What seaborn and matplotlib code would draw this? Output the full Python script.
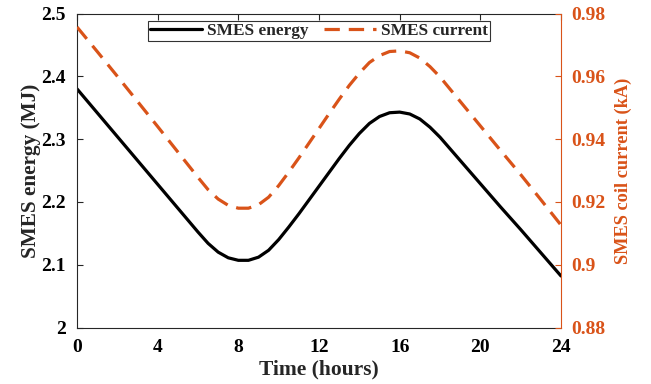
import matplotlib
matplotlib.use("Agg")
import matplotlib.pyplot as plt
from matplotlib.ticker import FuncFormatter
import seaborn as sns
import pandas as pd

# Time of day (hours)
hours = [0, 1, 2, 3, 4, 5, 6, 6.5, 7, 7.5, 8, 8.5, 9, 9.5, 10, 10.5, 11, 11.5,
         12, 12.5, 13, 13.5, 14, 14.5, 15, 15.5, 16, 16.5, 17, 17.5, 18, 19,
         20, 21, 22, 23, 24]

# Stored energy in the SMES coil (MJ)
energy_mj = [2.380, 2.342, 2.304, 2.266, 2.228, 2.190, 2.152, 2.134, 2.120,
             2.111, 2.107, 2.107, 2.112, 2.123, 2.140, 2.160, 2.181, 2.203,
             2.225, 2.247, 2.269, 2.290, 2.309, 2.325, 2.336, 2.342, 2.343,
             2.340, 2.332, 2.319, 2.303, 2.266, 2.229, 2.192, 2.156, 2.119,
             2.082]

# Coil current (kA)
current_ka = [0.9757, 0.9679, 0.9600, 0.9520, 0.9440, 0.9359, 0.9278, 0.9239,
              0.9209, 0.9189, 0.9180, 0.9180, 0.9191, 0.9215, 0.9252, 0.9295,
              0.9340, 0.9387, 0.9434, 0.9481, 0.9527, 0.9571, 0.9610, 0.9644,
              0.9666, 0.9679, 0.9681, 0.9675, 0.9658, 0.9631, 0.9598, 0.9520,
              0.9442, 0.9364, 0.9287, 0.9207, 0.9126]

x_ticks = [0, 4, 8, 12, 16, 20, 24]
energy_ticks = [2.0, 2.1, 2.2, 2.3, 2.4, 2.5]
current_ticks = [0.88, 0.90, 0.92, 0.94, 0.96, 0.98]

df = pd.DataFrame({"t": hours, "E": energy_mj, "I": current_ka})

sns.set_style("white")
plt.rcParams["font.family"] = ["Liberation Serif", "DejaVu Serif"]
plt.rcParams["font.weight"] = "bold"

ORANGE = "#D95319"
AXCOL = "#262626"

fig = plt.figure(figsize=(6.51, 3.84), dpi=100)
ax = fig.add_axes([0.1183, 0.1471, 0.7435, 0.8177])
ax2 = ax.twinx()

sns.lineplot(data=df, x="t", y="E", ax=ax, color="black", linewidth=2.3,
             label="SMES energy", legend=False)
sns.lineplot(data=df, x="t", y="I", ax=ax2, color=ORANGE, linewidth=2.3,
             label="SMES current", legend=False)
ax2.lines[0].set_dashes((4.8, 2.8))

ax.set_xlim(0, 24)
ax.set_ylim(2.0, 2.5)
ax2.set_ylim(0.88, 0.98)
ax.set_xticks(x_ticks)
ax.set_yticks(energy_ticks)
ax2.set_yticks(current_ticks)

fmt = FuncFormatter(lambda v, p: f"{v:g}")
ax.yaxis.set_major_formatter(fmt)
ax2.yaxis.set_major_formatter(fmt)

ax.tick_params(axis="x", direction="in", length=4, width=0.8, colors=AXCOL,
               top=True, labelcolor="black", labelsize=14, pad=8)
ax.tick_params(axis="y", direction="in", length=4, width=0.8, colors=AXCOL,
               labelcolor="black", labelsize=14, pad=8)
ax2.tick_params(axis="y", direction="in", length=4, width=0.8, colors=ORANGE,
                labelcolor=ORANGE, labelsize=14, pad=7)
for lab in ax.get_xticklabels() + ax.get_yticklabels() + ax2.get_yticklabels():
    lab.set_fontweight("bold")

for name in ("left", "top", "bottom"):
    ax.spines[name].set_color(AXCOL)
    ax.spines[name].set_linewidth(0.8)
ax2.spines["right"].set_color(ORANGE)
ax2.spines["right"].set_linewidth(0.8)
ax.spines["right"].set_visible(False)
for name in ("left", "top", "bottom"):
    ax2.spines[name].set_visible(False)

ax.set_xlabel("Time (hours)", fontsize=15.5, fontweight="bold", labelpad=3)
ax.set_ylabel("SMES energy (MJ)", fontsize=15.3, fontweight="bold", labelpad=0)
ax2.set_ylabel("SMES coil current (kA)", fontsize=13.2, fontweight="bold",
               color=ORANGE, labelpad=7)

handles = ax.get_lines()[:1] + ax2.get_lines()[:1]
leg = ax2.legend(handles, ["SMES energy", "SMES current"], loc="upper center",
                 bbox_to_anchor=(0.5, 1.0), ncol=2, frameon=True, fancybox=False,
                 shadow=False, prop={"weight": "bold", "size": 12.4},
                 handlelength=3.0, handletextpad=0.3, columnspacing=0.9,
                 borderpad=0.12, borderaxespad=0.45)
leg.get_frame().set_edgecolor("black")
leg.get_frame().set_linewidth(0.8)

fig.savefig("out.png", dpi=100)
